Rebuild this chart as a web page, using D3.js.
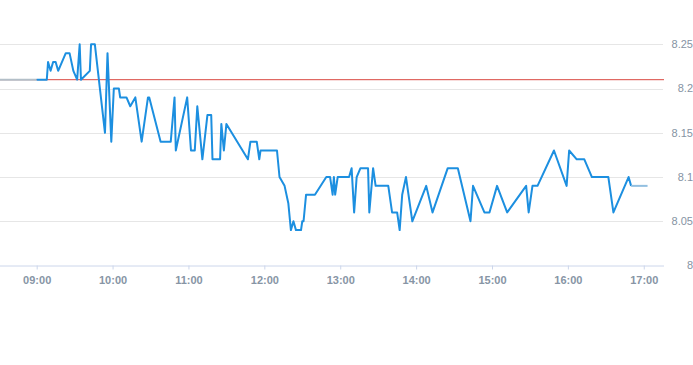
<!DOCTYPE html>
<html>
<head>
<meta charset="utf-8">
<script src="https://cdn.jsdelivr.net/npm/d3@7"></script>
<style>
  html, body { margin: 0; padding: 0; background: #ffffff; }
  svg { display: block; }
</style>
</head>
<body>
<svg id="chart" width="693" height="365"></svg>
<script>
// ---- data ----
const times = ["09:00","09:08","09:09","09:11","09:13","09:15","09:17","09:23","09:26","09:29","09:32","09:34","09:35","09:42","09:43","09:46","09:50","09:54","09:56","09:59",
  "10:01","10:05","10:06","10:11","10:14","10:18","10:23","10:28","10:29","10:38","10:46","10:49","10:50","10:59",
  "11:02","11:05","11:07","11:11","11:15","11:18","11:19","11:25","11:26","11:28","11:30","11:47","11:49","11:54","11:56","11:57",
  "12:10","12:12","12:16","12:19","12:21","12:23","12:25","12:29","12:30","12:31","12:33","12:40","12:49","12:52","12:54","12:55","12:56","12:58",
  "13:07","13:09","13:11","13:13","13:16","13:22","13:23","13:26","13:28","13:38","13:41","13:45","13:47","13:49","13:52","13:57",
  "14:08","14:13","14:25","14:33","14:43","14:45","14:54","14:58",
  "15:04","15:12","15:27","15:29","15:32","15:36","15:49","15:59",
  "16:01","16:07","16:13","16:19","16:32","16:36","16:48","16:50"];
const prices = [8.21,8.21,8.23,8.22,8.23,8.23,8.22,8.24,8.24,8.22,8.21,8.25,8.21,8.22,8.25,8.25,8.20,8.15,8.24,8.14,
  8.20,8.20,8.19,8.19,8.18,8.19,8.14,8.19,8.19,8.14,8.14,8.19,8.13,8.19,
  8.13,8.13,8.18,8.12,8.17,8.17,8.12,8.12,8.16,8.13,8.16,8.12,8.14,8.14,8.12,8.13,
  8.13,8.10,8.09,8.07,8.04,8.05,8.04,8.04,8.05,8.05,8.08,8.08,8.10,8.10,8.08,8.10,8.08,8.10,
  8.10,8.11,8.06,8.10,8.11,8.11,8.06,8.11,8.09,8.09,8.06,8.06,8.04,8.08,8.10,8.05,
  8.09,8.06,8.11,8.11,8.05,8.09,8.06,8.06,
  8.09,8.06,8.09,8.06,8.09,8.09,8.13,8.09,
  8.13,8.12,8.12,8.10,8.10,8.06,8.10,8.09];
const preTimes = ["08:31","09:00"];
const preValues = [8.21, 8.21];
const postTimes = ["16:50","17:03"];
const postValues = [8.09, 8.09];
const prevClose = 8.21;
const yTicks = [8, 8.05, 8.1, 8.15, 8.2, 8.25];
const xTickLabels = ["09:00","10:00","11:00","12:00","13:00","14:00","15:00","16:00","17:00"];
const xDomain = ["08:31","17:16"];

// ---- layout ----
const parse = d3.timeParse("%H:%M");
const svg = d3.select("#chart");
const plotLeft = 0, plotRight = 664, plotBottom = 265.5, topY = 44.3;

const x = d3.scaleTime().domain(xDomain.map(parse)).range([plotLeft, plotRight]);
const y = d3.scaleLinear().domain([8, 8.25]).range([plotBottom, topY]);

// gridlines
svg.append("g").selectAll("line").data(yTicks.filter(v => v > 8)).join("line")
  .attr("x1", plotLeft).attr("x2", plotRight - 1)
  .attr("y1", d => Math.round(y(d)) + 0.5).attr("y2", d => Math.round(y(d)) + 0.5)
  .attr("stroke", "#e6e6e6").attr("stroke-width", 1);

// y labels (right)
svg.append("g").selectAll("text").data(yTicks).join("text")
  .attr("x", 693).attr("y", d => y(d)).attr("dy", "0.35em")
  .attr("text-anchor", "end")
  .attr("font-family", "Liberation Sans, Arial, sans-serif")
  .attr("font-size", 11).attr("fill", "#8593a3")
  .text(d => d3.format("")(+d.toFixed(2)));

// x axis
const xAxis = d3.axisBottom(x)
  .tickValues(xTickLabels.map(parse))
  .tickFormat(d3.timeFormat("%H:%M"))
  .tickSize(4).tickSizeOuter(0);
const gx = svg.append("g").attr("transform", `translate(0,${Math.round(plotBottom) - 0.5})`).call(xAxis);
gx.select(".domain").attr("stroke", "#ccd6eb").attr("d", `M${plotLeft},0.5H${plotRight}`);
gx.selectAll(".tick line").attr("stroke", "#ccd6eb");
gx.selectAll(".tick text")
  .attr("font-family", "Liberation Sans, Arial, sans-serif")
  .attr("font-size", 11).attr("font-weight", "bold").attr("fill", "#8795a5")
  .attr("dy", "1.05em");

// previous close line
svg.append("line")
  .attr("x1", plotLeft).attr("x2", plotRight)
  .attr("y1", y(prevClose)).attr("y2", y(prevClose))
  .attr("stroke", "#d9473f").attr("stroke-width", 1);

const line = d3.line().x(d => x(d[0])).y(d => y(d[1]));

// pre-market segment
svg.append("path")
  .datum(preTimes.map((t, i) => [parse(t), preValues[i]]))
  .attr("d", line).attr("fill", "none")
  .attr("stroke", "#b3bfc8").attr("stroke-width", 2);

// main series
svg.append("path")
  .datum(times.map((t, i) => [parse(t), prices[i]]))
  .attr("d", line).attr("fill", "none")
  .attr("stroke", "#1c8fe0").attr("stroke-width", 2)
  .attr("stroke-linejoin", "round");

// post segment
svg.append("path")
  .datum(postTimes.map((t, i) => [parse(t), postValues[i]]))
  .attr("d", line).attr("fill", "none")
  .attr("stroke", "#92bfe0").attr("stroke-width", 2);
</script>
</body>
</html>
